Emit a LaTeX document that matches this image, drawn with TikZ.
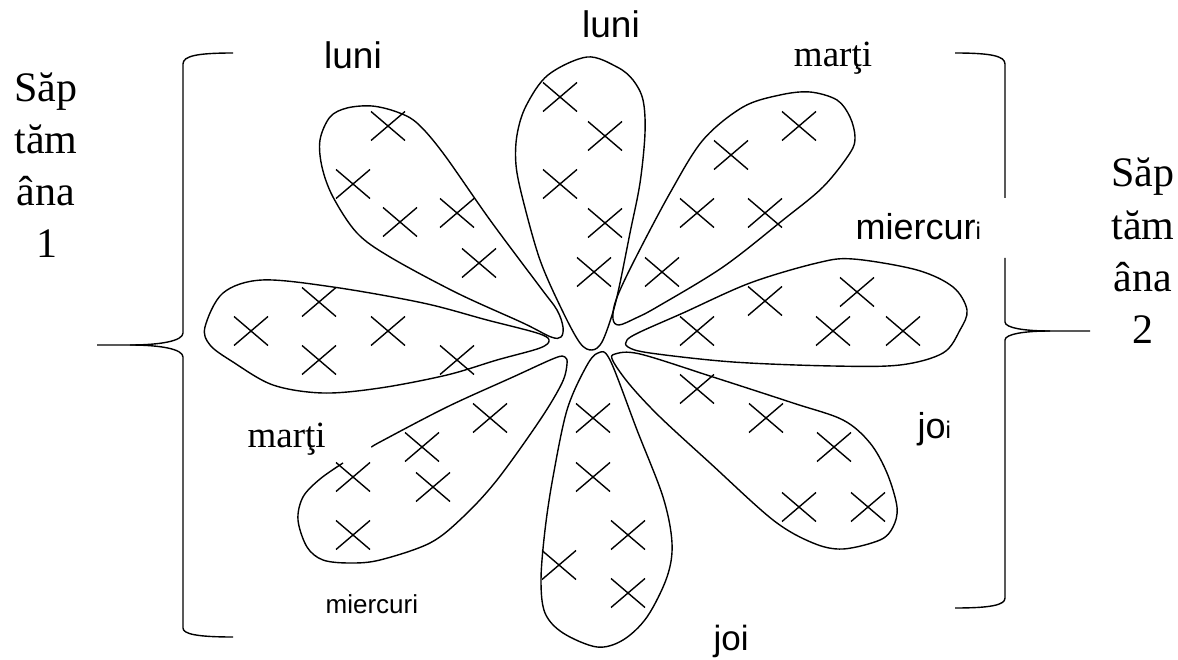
\documentclass[tikz,border=0pt]{standalone}
\usepackage{fontspec}
\setmainfont{Liberation Serif}
\newfontfamily\arialf{Liberation Sans}
\begin{document}
\begin{tikzpicture}[x=1pt,y=-1pt,line width=1.3pt,line join=round,
  petal/.style={draw=black,line width=1.4pt},
  brace/.style={draw=black,line width=1.4pt},
  sertext/.style={inner sep=0pt,anchor=base,font=\fontsize{42}{50}\selectfont},
  lbl/.style={inner sep=0pt,anchor=base west},
  xcross/.pic={\draw[line width=1.4pt] (-17,-14.5)--(17,14.5) (-17,14.5)--(17,-14.5);}]
\useasboundingbox (0,0) rectangle (1178,660);
% ---------- petals ----------
% petal 1 (upper left)
\draw[petal] plot[smooth cycle,tension=0.55] coordinates {(372,106) (397,112) (417,123) (443,153) (490,220) (540,287) (557,310) (563,327) (561,337) (551,337) (523,323) (457,293) (390,257) (357,233) (333,197) (322,167) (320,140) (330,117) (347,108)};
% petal 2 (left)
\draw[petal] plot[smooth cycle,tension=0.55] coordinates {(205,327) (223,293) (262,280) (333,287) (423,303) (487,320) (537,333) (549,340) (540,348) (497,360) (447,375) (380,388) (323,393) (273,385) (233,362) (210,345)};
% petal 3 (top)
\draw[petal] plot[smooth cycle,tension=0.55] coordinates {(587,57) (617,67) (633,80) (643,100) (645,133) (640,183) (630,233) (620,283) (613,312) (602,342) (592,350) (580,343) (562,310) (540,260) (523,200) (516,165) (517,135) (526,106) (548,75)};
% petal 4 (upper right)
\draw[petal] plot[smooth cycle,tension=0.55] coordinates {(810,92) (837,100) (850,117) (855,137) (850,153) (823,187) (783,220) (723,267) (657,307) (636,318) (619,325) (613,319) (616,300) (633,263) (670,193) (703,140) (743,107) (780,95)};
% petal 5 (right)
\draw[petal] plot[smooth cycle,tension=0.55] coordinates {(640,332) (683,313) (750,283) (817,263) (853,259) (917,270) (953,287) (967,310) (960,330) (943,353) (900,365) (833,366) (733,362) (650,353) (628,347) (627,340)};
% petal 6 (lower right)
\draw[petal] plot[smooth cycle,tension=0.55] coordinates {(640,354) (713,377) (793,403) (843,420) (870,443) (887,473) (897,507) (893,527) (880,540) (843,549) (813,543) (773,520) (710,463) (660,417) (630,385) (613,361) (615,354)};
% petal 7 (bottom)
\draw[petal] plot[smooth cycle,tension=0.55] coordinates {(598,353) (610,360) (637,430) (663,497) (672,543) (667,577) (647,617) (623,640) (597,647) (563,633) (545,613) (541,580) (545,530) (553,477) (567,410) (586,367)};
% petal 8 (lower left, open outline)
\draw[petal] plot[smooth,tension=0.55] coordinates {(372,447) (380,442) (447,407) (513,377) (555,358) (565,357) (567,364) (562,383) (540,420) (497,480) (463,517) (430,543) (380,560) (350,563) (323,560) (307,547) (298,520) (303,497) (320,479) (343,463)};
% ---------- crosses ----------
\foreach \p in {(388,126),(353,184),(400,222),(457,213),(479,263),
  (251,331),(319,302),(388,331),(319,360),(457,360),
  (560,97),(605,136),(560,184),(605,223),(594,272),
  (799,126),(731,155),(697,213),(765,213),(662,272),
  (697,331),(765,301),(857,292),(833,331),(903,331),
  (697,389),(766,418),(834,447),(799,507),(868,507),
  (593,418),(593,477),(628,535),(628,593),(559,565),
  (353,477),(353,535),(422,447),(433,487),(490,418)}
  \pic at \p {xcross};
% ---------- braces ----------
\draw[brace] (233,53) .. controls (197,53) and (183,56) .. (183,64) -- (183,333)
  .. controls (183,341) and (160,345) .. (130,345) -- (97,345);
\draw[brace] (130,345) .. controls (160,345) and (183,349) .. (183,357) -- (183,628)
  .. controls (183,634) and (197,637) .. (233,637);
\draw[brace] (955,53) .. controls (991,53) and (1005,56) .. (1005,64) -- (1005,198);
\draw[brace] (1005,258) -- (1005,322) .. controls (1005,328) and (1025,331) .. (1050,331) -- (1090,331);
\draw[brace] (1050,331) .. controls (1025,331) and (1005,334) .. (1005,340) -- (1005,598)
  .. controls (1005,605) and (991,608) .. (955,608);
% ---------- side texts ----------
\node[sertext] (l1) at (46,102) {Săp};
\node[sertext] (l2) at (46,154) {tăm};
\node[sertext] (l3) at (46,206) {âna};
\node[sertext] (l4) at (47,258) {1};
\node[sertext] (r1) at (1143,187) {Săp};
\node[sertext] (r2) at (1143,240) {tăm};
\node[sertext] (r3) at (1143,292) {âna};
\node[sertext] (r4) at (1143,343) {2};
% ---------- day labels ----------
\node[inner sep=0pt,anchor=base,font=\arialf\fontsize{37}{40}\selectfont] (luni1) at (353,69) {luni};
\node[inner sep=0pt,anchor=base,font=\arialf\fontsize{37}{40}\selectfont] (luni2) at (611,38) {luni};
\node[inner sep=0pt,anchor=base,font=\fontsize{37}{40}\selectfont] (marti1) at (833,67) {marţi};
\node[lbl,font=\arialf\fontsize{36}{40}\selectfont] (mierc1) at (855,240) {miercur{\fontsize{24}{28}\selectfont i}};
\node[lbl,font=\arialf\fontsize{36}{40}\selectfont] (joi1) at (917,438) {jo{\fontsize{24}{28}\selectfont i}};
\node[lbl,font=\fontsize{37}{40}\selectfont] (marti2) at (247,447) {marţi};
\node[lbl,font=\arialf\fontsize{26}{30}\selectfont] (mierc2) at (325,613) {miercuri};
\node[lbl,font=\arialf\fontsize{35}{40}\selectfont] (joi2) at (713,650) {joi};
\end{tikzpicture}
\end{document}
